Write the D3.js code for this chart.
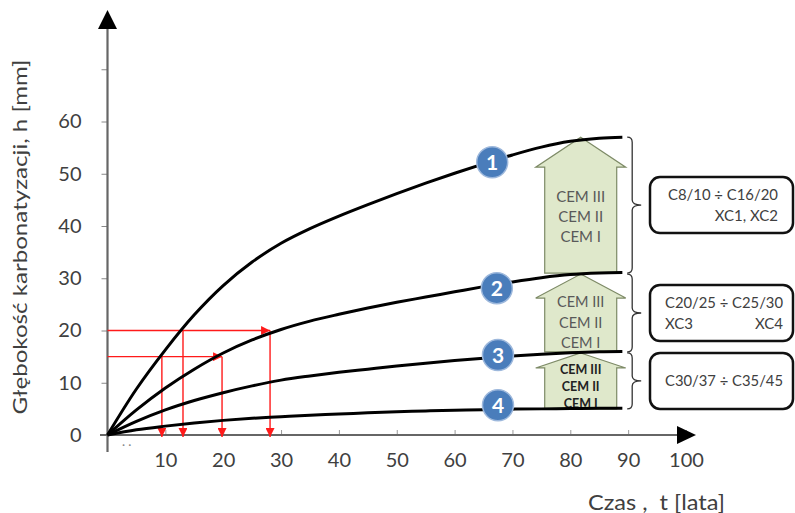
<!DOCTYPE html>
<html><head><meta charset="utf-8">
<script src="https://cdn.jsdelivr.net/npm/d3@7"></script>
<style>
html,body{margin:0;padding:0;background:#fff;}
text{font-family:Lato,"Noto Sans",sans-serif;}
</style></head>
<body><svg id="c" width="795" height="513"></svg>
<script>
// ---- data ----
const tYears = [0,5,10,15,20,25,30,35,40,45,50,55,60,65,70,75,80,85,89];
const curve1 = [0,8.8,16.3,23,28.6,33.1,36.7,39.5,41.9,44.1,46.2,48.2,50.1,51.9,53.6,55.1,56.2,56.8,57];
const curve2 = [0,4.8,9,12.6,15.7,18.2,20.2,21.8,23.1,24.3,25.4,26.4,27.4,28.4,29.3,30.1,30.7,31,31.1];
const curve3 = [0,2.6,4.8,6.6,8.1,9.4,10.5,11.3,12,12.6,13.2,13.75,14.25,14.7,15.1,15.45,15.75,15.95,16];
const curve4 = [0,1,1.7,2.3,2.8,3.2,3.5,3.8,4,4.25,4.45,4.6,4.75,4.85,4.95,5,5.05,5.1,5.1];
const seriesNames = ["1","2","3","4"];
const markerT = [66.5,67.3,67.5,67.5];
const markerH = [52.2,28.1,15.3,5.7];
const xTicks = [10,20,30,40,50,60,70,80,90,100];
const yTicks = [0,10,20,30,40,50,60,70];
const yTickLabels = ["0","10","20","30","40","50","60",""];
// red reading lines
const redHH = [20,15];
const redHEndT = [28.1,19.8];
const redVT = [9.4,13.05,19.8,28.1];
const redVH = [15,20,15,20];
// cement arrows
const arrowT = 81.8;
const arrowTop = [57,30.8,15.7];
const arrowBottom = [31,15.9,5];
const cemLabels = ["CEM III","CEM II","CEM I"];
const braceT = 90.7;
const boxLine1 = ["C8/10 \u00f7 C16/20","C20/25 \u00f7 C25/30","C30/37 \u00f7 C35/45"];
const boxLine2 = [["","XC1, XC2"],["XC3","XC4"],["",""]];
const yTitle = "G\u0142\u0119boko\u015b\u0107 karbonatyzacji, h [mm]";
const xTitle = "Czas ,  t [lata]";

// ---- styles ----
const svg = d3.select("#c");
svg.append("rect").attr("width",795).attr("height",513).attr("fill","#fff");
const x = d3.scaleLinear().domain([0,100]).range([107.5,686]);
const y = d3.scaleLinear().domain([0,60]).range([435,121.5]);
const axisCol = "#666";
const txtCol = "#404040";

const defs = svg.append("defs");
defs.append("marker").attr("id","rh").attr("viewBox","0 0 10 10").attr("refX",10).attr("refY",5)
  .attr("markerWidth",9).attr("markerHeight",9).attr("markerUnits","userSpaceOnUse").attr("orient","auto")
  .append("path").attr("d","M0,0 L10,5 L0,10 Z").attr("fill","#ff1a1a");

// ---- axes ----
const yAxis = d3.axisLeft(y).tickValues(yTicks).tickSize(6).tickPadding(20)
  .tickFormat((d,i)=>yTickLabels[i]);
const gy = svg.append("g").attr("transform","translate(107.5,0)").call(yAxis);
gy.select(".domain").remove();
gy.selectAll(".tick line").attr("stroke","#888").attr("stroke-width",1);
gy.selectAll(".tick text").attr("font-size",20).attr("fill",txtCol).attr("font-family","Lato");

const xAxis = d3.axisBottom(x).tickValues(xTicks).tickSizeInner(-5).tickSizeOuter(0).tickPadding(18);
const gx = svg.append("g").attr("transform","translate(0,435)").call(xAxis);
gx.select(".domain").remove();
gx.selectAll(".tick line").attr("stroke","#999").attr("stroke-width",1);
gx.selectAll(".tick text").attr("font-size",20).attr("fill",txtCol).attr("font-family","Lato");

svg.append("line").attr("x1",107.5).attr("x2",107.5).attr("y1",28).attr("y2",452)
  .attr("stroke",axisCol).attr("stroke-width",2.2);
svg.append("path").attr("d","M107.5,10 L98,29 L117,29 Z").attr("fill","#000");
svg.append("line").attr("x1",100).attr("x2",680).attr("y1",435).attr("y2",435)
  .attr("stroke",axisCol).attr("stroke-width",2.2);
svg.append("path").attr("d","M696,435 L677,426 L677,444 Z").attr("fill","#000");
svg.append("text").attr("x",122).attr("y",449).attr("font-size",12).attr("fill","#888").text("\u00b7 \u00b7");

// axis titles
svg.append("text").attr("transform","translate(27,237) rotate(-90)").attr("text-anchor","middle")
  .attr("font-size",20).attr("fill",txtCol).attr("textLength",355).attr("lengthAdjust","spacingAndGlyphs")
  .text(yTitle);
svg.append("text").attr("x",588).attr("y",510).attr("font-size",21).attr("fill",txtCol)
  .attr("textLength",137).attr("lengthAdjust","spacingAndGlyphs").style("white-space","pre")
  .text(xTitle);

// ---- red reading lines ----
const red = svg.append("g");
redHH.forEach((h,i)=>{
  red.append("line").attr("x1",x(0)).attr("x2",x(redHEndT[i])).attr("y1",y(h)).attr("y2",y(h))
    .attr("stroke","#ff1a1a").attr("stroke-width",1.4).attr("marker-end","url(#rh)");
});
redVT.forEach((t,i)=>{
  red.append("line").attr("x1",x(t)).attr("x2",x(t)).attr("y1",y(redVH[i])).attr("y2",y(0)+2)
    .attr("stroke","#ff1a1a").attr("stroke-width",1.4).attr("marker-end","url(#rh)");
});

// ---- cement arrows ----
const shaftHalf = 36, headHalf = 45;
const headH = [30,24,15];
const lineStart = [30,4,2], lineStep = [20,20.5,17];
const cemSize = [15,14.5,12.5], cemWeight = ["normal","normal","bold"], cemFill = ["#595959","#595959","#222"];
arrowTop.forEach((top,i)=>{
  const cx = x(arrowT), ty = y(top), by = y(arrowBottom[i]), hb = ty + headH[i];
  const pts = [[cx,ty],[cx+headHalf,hb],[cx+shaftHalf,hb],[cx+shaftHalf,by],[cx-shaftHalf,by],[cx-shaftHalf,hb],[cx-headHalf,hb]];
  const d = "M"+pts.map(p=>p.join(",")).join(" L")+" Z";
  svg.append("path").attr("d",d).attr("fill","#dfe8cb").attr("stroke","#7d8a66").attr("stroke-width",1.2);
  defs.append("clipPath").attr("id","ac"+i).append("path").attr("d",d);
  const g = svg.append("g").attr("clip-path","url(#ac"+i+")");
  cemLabels.forEach((s,j)=>{
    g.append("text").attr("x",cx).attr("y",hb+lineStart[i]+j*lineStep[i]).attr("dy","0.35em")
      .attr("text-anchor","middle").attr("font-size",cemSize[i]).attr("font-weight",cemWeight[i])
      .attr("fill",cemFill[i]).text(s);
  });
});

// ---- curves ----
const line = d3.line().x(d=>x(d[0])).y(d=>y(d[1])).curve(d3.curveCatmullRom.alpha(0.5));
[curve1,curve2,curve3,curve4].forEach(c=>{
  svg.append("path").attr("d",line(tYears.map((t,i)=>[t,c[i]])))
    .attr("fill","none").attr("stroke","#000").attr("stroke-width",3);
});

// ---- braces ----
arrowTop.forEach((top,i)=>{
  const bx = x(braceT), t = y(top), b = y(arrowBottom[i]), m = (t+b)/2;
  const d = `M${bx-5},${t} Q${bx},${t} ${bx},${t+5} L${bx},${m-5} Q${bx},${m} ${bx+9},${m} Q${bx},${m} ${bx},${m+5} L${bx},${b-5} Q${bx},${b} ${bx-5},${b}`;
  svg.append("path").attr("d",d).attr("fill","none").attr("stroke","#333").attr("stroke-width",1.3);
  // box
  svg.append("rect").attr("x",650).attr("y",m-28).attr("width",143).attr("height",56).attr("rx",10)
    .attr("fill","#fff").attr("stroke","#111").attr("stroke-width",2.5);
  const two = boxLine2[i][0] !== "" || boxLine2[i][1] !== "";
  const l1y = two ? m-10 : m;
  const l1x = i===0 ? 668 : 665, l1w = i===0 ? 110 : 118;
  svg.append("text").attr("x",l1x).attr("y",l1y).attr("dy","0.35em").attr("font-size",15).attr("fill",txtCol)
    .attr("textLength",l1w).attr("lengthAdjust","spacingAndGlyphs").text(boxLine1[i]);
  if (two) {
    if (boxLine2[i][0]) svg.append("text").attr("x",665).attr("y",m+11).attr("dy","0.35em")
      .attr("font-size",15).attr("fill",txtCol).text(boxLine2[i][0]);
    svg.append("text").attr("x",l1x+l1w).attr("y",m+11).attr("dy","0.35em").attr("text-anchor","end")
      .attr("font-size",15).attr("fill",txtCol).text(boxLine2[i][1]);
  }
});

// ---- numbered markers ----
markerT.forEach((t,i)=>{
  svg.append("circle").attr("cx",x(t)).attr("cy",y(markerH[i])).attr("r",15.5)
    .attr("fill","#4a7dbb").attr("stroke","#9db8dc").attr("stroke-width",1.5);
  svg.append("text").attr("x",x(t)).attr("y",y(markerH[i])).attr("dy","0.36em").attr("text-anchor","middle")
    .attr("font-size",21).attr("font-weight","bold").attr("fill","#fff").text(seriesNames[i]);
});
</script></body></html>
